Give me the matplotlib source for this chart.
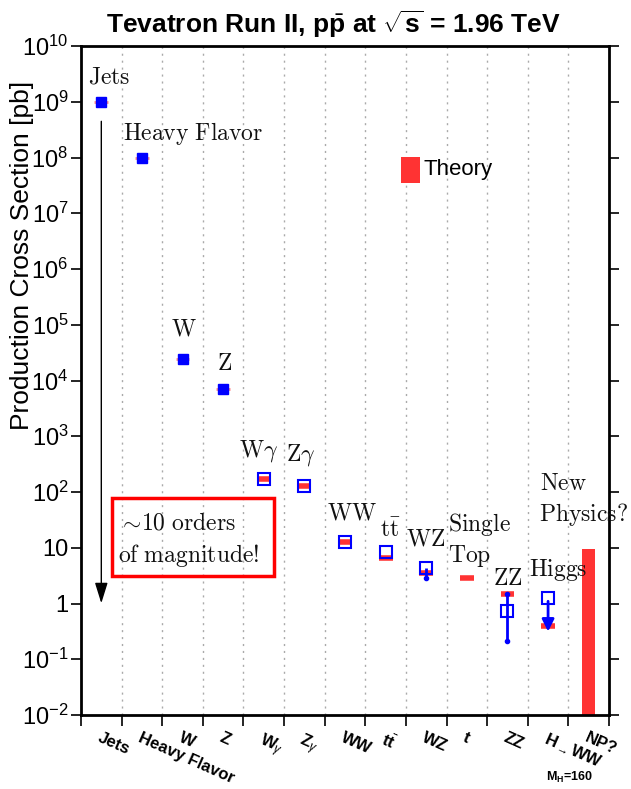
import numpy as np
import matplotlib.pyplot as plt
from matplotlib.patches import Rectangle

plt.rcParams['mathtext.fontset'] = 'custom'
plt.rcParams['mathtext.rm'] = 'Liberation Sans'
plt.rcParams['mathtext.it'] = 'Liberation Sans:italic'
plt.rcParams['mathtext.bf'] = 'Liberation Sans:bold'
plt.rcParams['font.family'] = ['Liberation Sans', 'DejaVu Sans']

# categories along x
tick_labels = ['Jets', 'Heavy Flavor', 'W', 'Z', r'W$_\gamma$', r'Z$_\gamma$', 'WW',
               r't$\bar{\mathregular{t}}$', 'WZ', 't', 'ZZ', r'H$_{\rightarrow}$WW', 'NP?']
# measured cross sections [pb] (nan = none)
measured = [1.0e9, 1.0e8, 2.4e4, 7.0e3, 169, 128, 12.7, 8.4, 4.3, np.nan, 0.74, 1.23, np.nan]
filled = [True, True, True, True] + [False] * 9
# theory predictions [pb]
theory = [1.0e9, 1.0e8, 2.4e4, 7.0e3, 169, 128, 12.7, 6.5, 3.5, 2.86, 1.48, 0.40, np.nan]
# error bars (low, high)
wz_err = (2.86, 4.3)
zz_err = (0.21, 1.48)
higgs_limit = (1.23, 0.28)
# new physics band
np_top = 9.5

ytick_vals = [10.0 ** k for k in range(-2, 11)]
ytick_labels = [r'$10^{-2}$', r'$10^{-1}$', '1', '10'] + [r'$10^{%d}$' % k for k in range(2, 11)]

# serif annotations (text, pixel x, pixel baseline y)
notes = [
    (r'$\mathrm{Jets}$', 88, 84),
    (r'$\mathrm{Heavy\ Flavor}$', 123, 140),
    (r'$\mathrm{W}$', 171, 336),
    (r'$\mathrm{Z}$', 217, 370),
    (r'$\mathrm{W}\gamma$', 239, 457),
    (r'$\mathrm{Z}\gamma$', 286, 460),
    (r'$\mathrm{WW}$', 327, 519),
    (r'$\mathrm{t}\bar{\mathrm{t}}$', 380, 537),
    (r'$\mathrm{WZ}$', 406, 546),
    (r'$\mathrm{Single}$', 448, 531),
    (r'$\mathrm{Top}$', 448, 562),
    (r'$\mathrm{ZZ}$', 493, 585),
    (r'$\mathrm{Higgs}$', 529, 576),
    (r'$\mathrm{New}$', 540, 490),
    (r'$\mathrm{Physics?}$', 539, 521),
    (r'$\sim\!\mathrm{10\ orders}$', 118, 529),
    (r'$\mathrm{of\ magnitude!}$', 118, 562),
]

W, H = 631, 789
L, R, T, B = 81, 609, 46, 715


def fx(px):
    return (px - L) / (R - L)


def fy(py):
    return (B - py) / (B - T)


fig = plt.figure(figsize=(W / 100, H / 100), dpi=100)
ax = fig.add_axes([L / W, 1 - B / H, (R - L) / W, (B - T) / H])

x = np.arange(len(tick_labels))
blue = '#0000ff'
red = '#ff3333'

ax.set_yscale('log')
ax.set_ylim(1e-2, 1e10)
ax.set_xlim(-0.5, len(x) - 0.5)

# grid at category boundaries
bounds = np.arange(-0.5, len(x), 1.0)
for b in bounds[1:-1]:
    ax.axvline(b, color='#aaaaaa', lw=1, ls=(0, (1.5, 3.5)), zorder=0)

# theory lines
th = np.array(theory)
for i in range(len(x)):
    if np.isnan(th[i]):
        continue
    if filled[i]:
        ax.hlines(th[i], x[i] - 0.17, x[i] + 0.17, color='#ff8888', lw=2, zorder=2)
    else:
        ax.hlines(th[i], x[i] - 0.17, x[i] + 0.17, color=red, lw=4, zorder=2)

# error bars
ax.vlines(8, wz_err[0], wz_err[1], color=blue, lw=2, zorder=3)
ax.plot(8, wz_err[0], 'o', color=blue, ms=3, zorder=3)
ax.vlines(10, zz_err[0], zz_err[1], color=blue, lw=2, zorder=3)
ax.plot([10, 10], zz_err, 'o', color=blue, ms=3, zorder=3)
ax.annotate('', xy=(11, higgs_limit[1]), xytext=(11, higgs_limit[0]),
            arrowprops=dict(arrowstyle='-|>,head_length=0.6,head_width=0.3',
                            color=blue, lw=2, mutation_scale=12), zorder=3)

# measurements
m = np.array(measured)
f = np.array(filled)
ax.plot(x[f], m[f], 's', color=blue, ms=7.5, zorder=4)
ax.plot(x[~f], m[~f], 's', mfc='none', mec=blue, mew=1.5, ms=8.5, zorder=4)

# new physics band
ax.bar(12, np_top - 1e-2, bottom=1e-2, width=0.32, color=red, zorder=2)

# long arrow
ax.annotate('', xy=(0, 0.9), xytext=(0, 5e8),
            arrowprops=dict(arrowstyle='-|>,head_length=0.9,head_width=0.28',
                            color='k', lw=1, mutation_scale=14))

# red box
ax.add_patch(Rectangle((fx(112), fy(576)), fx(274) - fx(112), fy(498) - fy(576),
                       transform=ax.transAxes, fill=False, ec='#ff0000', lw=2.5))

for txt, px, py in notes:
    ax.text(fx(px), fy(py), txt, transform=ax.transAxes, fontsize=17,
            math_fontfamily='cm', ha='left', va='baseline', color='#111111')

# theory legend
ax.add_patch(Rectangle((fx(401), fy(183)), fx(420) - fx(401), fy(157) - fy(183),
                       transform=ax.transAxes, color=red, ec='none'))
ax.text(fx(423), fy(170), 'Theory', transform=ax.transAxes, fontsize=16,
        va='center', ha='left')

# axes ticks
ax.set_yticks(ytick_vals, ytick_labels, fontsize=17)
ax.tick_params(axis='y', which='major', direction='out', length=7, width=1.2, pad=2)
ax.tick_params(axis='y', which='minor', direction='out', length=4, width=0.8)
ax.tick_params(axis='y', which='both', right=True)
ax.set_xticks(bounds)
ax.set_xticklabels([])
ax.tick_params(axis='x', which='major', direction='out', length=8, width=1.2)
ax.set_xticks(x, minor=True)
ax.set_xticklabels(tick_labels, minor=True, rotation=-24, ha='left', va='top',
                   rotation_mode='anchor', fontsize=12, fontweight='bold')
ax.tick_params(axis='x', which='minor', length=0, pad=11)
for s in ax.spines.values():
    s.set_linewidth(2)

fig.text(22 / W, 1 - 255 / H, 'Production Cross Section [pb]', rotation=90,
         ha='center', va='center', fontsize=19)
fig.text(333 / W, 1 - 24 / H, r'Tevatron Run II, p$\bar{\mathbf{p}}$ at $\sqrt{\mathbf{s}}$ = 1.96 TeV',
         ha='center', va='center', fontsize=19, fontweight='bold')
fig.text(569 / W, 1 - 777 / H, r'M$_\mathbf{H}$=160', ha='center', va='center',
         fontsize=9, fontweight='bold')

fig.savefig('out.png', dpi=100)
